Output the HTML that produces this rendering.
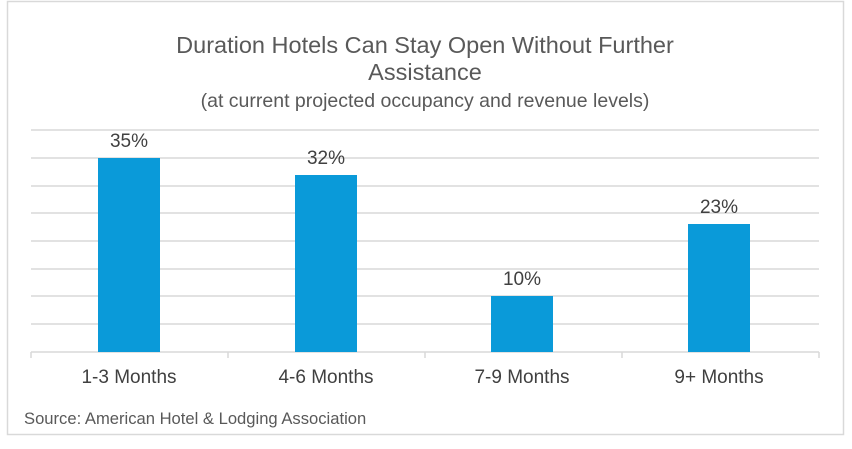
<!DOCTYPE html>
<html><head><style>
body{margin:0;width:852px;height:444px;background:#fff;overflow:hidden}
</style></head><body>
<svg width="852" height="444" xmlns="http://www.w3.org/2000/svg" font-family="Liberation Sans, sans-serif" fill="#404040">
<rect x="7.5" y="1.5" width="836" height="433" fill="#fff" stroke="#d9d9d9" stroke-width="1.5"/>
<g text-anchor="middle">
<text x="425" y="53" font-size="23.5" fill="#595959">Duration Hotels Can Stay Open Without Further</text>
<text x="425" y="80" font-size="23.5" fill="#595959">Assistance</text>
<text x="425" y="107" font-size="19.5" fill="#595959">(at current projected occupancy and revenue levels)</text>
</g>
<g stroke="#d9d9d9" stroke-width="1.5">
<line x1="31" x2="819" y1="130" y2="130"/>
<line x1="31" x2="819" y1="158" y2="158"/>
<line x1="31" x2="819" y1="186" y2="186"/>
<line x1="31" x2="819" y1="213" y2="213"/>
<line x1="31" x2="819" y1="241" y2="241"/>
<line x1="31" x2="819" y1="269" y2="269"/>
<line x1="31" x2="819" y1="296" y2="296"/>
<line x1="31" x2="819" y1="324" y2="324"/>
<line x1="31" x2="819" y1="352" y2="352"/>
<line x1="31" x2="31" y1="352" y2="358"/>
<line x1="228" x2="228" y1="352" y2="358"/>
<line x1="425" x2="425" y1="352" y2="358"/>
<line x1="622" x2="622" y1="352" y2="358"/>
<line x1="819" x2="819" y1="352" y2="358"/>
</g>
<g fill="#0a9ad9">
<rect x="98" y="158" width="62" height="194"/>
<rect x="295" y="175" width="62" height="177"/>
<rect x="491" y="296" width="62" height="56"/>
<rect x="688" y="224" width="62" height="128"/>
</g>
<g text-anchor="middle" font-size="19">
<text x="129" y="147">35%</text>
<text x="326" y="164">32%</text>
<text x="522" y="285">10%</text>
<text x="719" y="213">23%</text>
<text x="129" y="383">1-3 Months</text>
<text x="326" y="383">4-6 Months</text>
<text x="522" y="383">7-9 Months</text>
<text x="719" y="383">9+ Months</text>
</g>
<text x="24" y="424" font-size="16.6" fill="#595959">Source: American Hotel &amp; Lodging Association</text>
</svg>
</body></html>
